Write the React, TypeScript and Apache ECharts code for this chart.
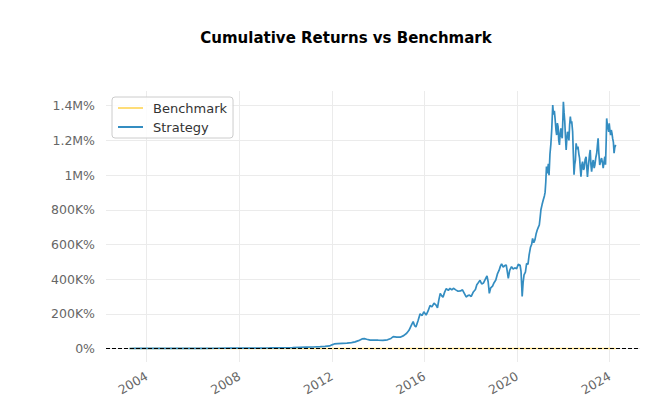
import React, { useEffect, useRef } from "react";
import * as echarts from "echarts";

const xTickYears = [2004, 2008, 2012, 2016, 2020, 2024];
const yTickValues = [0, 200000, 400000, 600000, 800000, 1000000, 1200000, 1400000];

const benchmark: [number, number][] = [
  [2003.25, 0], [2005, 40], [2007.8, 90], [2009.2, -30], [2011, 60], [2013, 110],
  [2015, 180], [2016, 170], [2018, 260], [2020.2, 220], [2021.9, 500], [2022.8, 380], [2024.26, 560],
];

const strategy: [number, number][] = [
  [2003.25, 0], [2003.5, 30], [2003.75, 60], [2004.0, 110], [2004.5, 180], [2005.0, 300],
  [2005.5, 420], [2006.0, 650], [2006.5, 850], [2007.0, 1200], [2007.5, 1600], [2008.0, 2100],
  [2008.5, 2500], [2008.9, 2200], [2009.3, 2900], [2009.7, 3700], [2010.0, 4300], [2010.3, 5200],
  [2010.6, 6300], [2010.9, 7400], [2011.2, 8600], [2011.5, 10500], [2011.7, 12000], [2011.9, 14500],
  [2012.0, 21000], [2012.1, 26000], [2012.25, 27500], [2012.45, 29000], [2012.65, 30500], [2012.85, 34000],
  [2013.0, 38000], [2013.15, 45000], [2013.3, 55000], [2013.4, 57000], [2013.5, 53000], [2013.65, 48000],
  [2013.85, 49000], [2014.0, 48000], [2014.2, 47000], [2014.4, 50000], [2014.55, 58000], [2014.65, 68000],
  [2014.8, 65000], [2014.95, 65000], [2015.1, 74000], [2015.23, 88000], [2015.33, 105000], [2015.44, 136000],
  [2015.51, 155000], [2015.57, 132000], [2015.63, 124000], [2015.72, 160000], [2015.81, 200000], [2015.9, 190000],
  [2015.97, 212000], [2016.07, 193000], [2016.15, 215000], [2016.24, 248000], [2016.32, 240000], [2016.41, 261000],
  [2016.5, 250000], [2016.56, 235000], [2016.62, 280000], [2016.68, 318000], [2016.74, 305000], [2016.8, 295000],
  [2016.87, 325000], [2016.94, 345000], [2017.03, 335000], [2017.1, 347000], [2017.18, 338000], [2017.25, 347000],
  [2017.35, 338000], [2017.45, 330000], [2017.55, 332000], [2017.64, 338000], [2017.72, 318000], [2017.8, 297000],
  [2017.87, 305000], [2017.94, 308000], [2018.02, 300000], [2018.11, 326000], [2018.2, 340000], [2018.26, 368000],
  [2018.33, 380000], [2018.4, 393000], [2018.47, 372000], [2018.55, 378000], [2018.63, 400000], [2018.7, 418000],
  [2018.75, 385000], [2018.8, 318000], [2018.86, 350000], [2018.94, 360000], [2019.0, 378000], [2019.08, 395000],
  [2019.15, 430000], [2019.22, 450000], [2019.28, 475000], [2019.33, 488000], [2019.4, 470000], [2019.47, 478000],
  [2019.53, 482000], [2019.58, 440000], [2019.62, 405000], [2019.68, 450000], [2019.76, 472000], [2019.83, 458000],
  [2019.9, 465000], [2019.98, 460000], [2020.05, 485000], [2020.13, 480000], [2020.17, 445000], [2020.2, 360000],
  [2020.22, 300000], [2020.26, 380000], [2020.3, 424000], [2020.36, 440000], [2020.41, 490000], [2020.47, 485000],
  [2020.52, 540000], [2020.58, 585000], [2020.63, 600000], [2020.67, 635000], [2020.72, 610000], [2020.77, 626000],
  [2020.82, 660000], [2020.87, 683000], [2020.92, 700000], [2020.96, 712000], [2021.0, 760000], [2021.03, 800000],
  [2021.08, 830000], [2021.13, 856000], [2021.18, 880000], [2021.21, 900000], [2021.24, 960000], [2021.27, 1050000],
  [2021.31, 1010000], [2021.35, 1065000], [2021.38, 1000000], [2021.42, 1120000], [2021.46, 1180000], [2021.5, 1270000],
  [2021.54, 1404000], [2021.57, 1350000], [2021.61, 1370000], [2021.64, 1327000], [2021.68, 1260000], [2021.71, 1231000],
  [2021.74, 1300000], [2021.77, 1280000], [2021.8, 1200000], [2021.83, 1174000], [2021.86, 1240000], [2021.89, 1270000],
  [2021.92, 1230000], [2021.95, 1212000], [2021.98, 1330000], [2022.0, 1423000], [2022.03, 1360000], [2022.06, 1308000],
  [2022.09, 1220000], [2022.12, 1145000], [2022.15, 1210000], [2022.18, 1250000], [2022.21, 1230000], [2022.24, 1200000],
  [2022.27, 1290000], [2022.3, 1337000], [2022.33, 1300000], [2022.36, 1310000], [2022.4, 1250000], [2022.43, 1120000],
  [2022.46, 1002000], [2022.49, 1060000], [2022.52, 1087000], [2022.55, 1183000], [2022.59, 1150000], [2022.63, 1164000],
  [2022.67, 1120000], [2022.7, 1098000], [2022.73, 1040000], [2022.76, 991000], [2022.8, 1060000], [2022.83, 1078000],
  [2022.87, 1030000], [2022.9, 1040000], [2022.94, 1090000], [2022.98, 1106000], [2023.01, 1050000], [2023.04, 990000],
  [2023.07, 1040000], [2023.1, 1078000], [2023.13, 1120000], [2023.16, 1145000], [2023.19, 1060000], [2023.22, 1020000],
  [2023.26, 1070000], [2023.29, 1087000], [2023.33, 1040000], [2023.36, 1058000], [2023.4, 1100000], [2023.44, 1126000],
  [2023.47, 1170000], [2023.5, 1212000], [2023.53, 1130000], [2023.57, 1058000], [2023.61, 1080000], [2023.65, 1098000],
  [2023.69, 1070000], [2023.72, 1040000], [2023.76, 1080000], [2023.79, 1106000], [2023.82, 1060000], [2023.85, 1200000],
  [2023.87, 1327000], [2023.9, 1290000], [2023.93, 1270000], [2023.96, 1250000], [2023.98, 1299000], [2024.01, 1260000],
  [2024.04, 1231000], [2024.07, 1260000], [2024.1, 1240000], [2024.13, 1210000], [2024.16, 1190000], [2024.19, 1126000],
  [2024.22, 1160000], [2024.26, 1174000],
];

const X_MIN = 2002.24;
const X_MAX = 2025.31;
const Y_MIN = -78000;
const Y_MAX = 1485000;

const FONT = "DejaVu Sans";

function fmtY(v: number): string {
  if (v === 0) return "0%";
  if (v >= 1000000) return `${+(v / 1000000).toFixed(1)}M%`;
  return `${+(v / 1000).toFixed(0)}K%`;
}

export default function App() {
  const ref = useRef<HTMLDivElement>(null);
  useEffect(() => {
    if (!ref.current) return;
    const chart = echarts.init(ref.current, undefined, { renderer: "svg" });
    chart.setOption({
      animation: false,
      backgroundColor: "#ffffff",
      title: {
        text: "Cumulative Returns vs Benchmark",
        left: 341,
        top: 25,
        textAlign: "center",
        textStyle: { fontFamily: FONT, fontSize: 15, fontWeight: "bold", color: "#000" },
      },
      legend: {
        data: ["Benchmark", "Strategy"],
        orient: "vertical",
        left: 112,
        top: 97,
        padding: [4, 6, 4, 6],
        itemWidth: 25,
        itemHeight: 2,
        itemGap: 5,
        icon: "rect",
        backgroundColor: "rgba(255,255,255,0.85)",
        borderColor: "#cccccc",
        borderWidth: 1,
        borderRadius: 3,
        textStyle: { fontFamily: FONT, fontSize: 13, color: "#333", lineHeight: 14, padding: [0, 0, 0, 5] },
      },
      grid: { left: 106, right: 12, top: 91, bottom: 56, containLabel: false },
      xAxis: {
        type: "value",
        min: X_MIN,
        max: X_MAX,
        axisLine: { show: false },
        axisTick: { show: false, customValues: xTickYears },
        axisLabel: {
          customValues: xTickYears,
          rotate: 30,
          margin: 13,
          color: "#666",
          fontFamily: FONT,
          fontSize: 12.5,
          formatter: (v: number) => String(Math.round(v)),
        },
        splitLine: { show: true, lineStyle: { color: "#ebebeb", width: 1 } },
      },
      yAxis: {
        type: "value",
        min: Y_MIN,
        max: Y_MAX,
        axisLine: { show: false },
        axisTick: { show: false, customValues: yTickValues },
        axisLabel: {
          customValues: yTickValues,
          margin: 11,
          color: "#666",
          fontFamily: FONT,
          fontSize: 12.5,
          formatter: (v: number) => fmtY(v),
        },
        splitLine: { show: true, lineStyle: { color: "#ebebeb", width: 1 } },
      },
      series: [
        {
          name: "Benchmark",
          type: "line",
          data: benchmark,
          symbol: "none",
          color: "#fedd78",
          lineStyle: { color: "#fedd78", width: 1.5 },
          z: 2,
        },
        {
          name: "Strategy",
          type: "line",
          data: strategy,
          symbol: "none",
          color: "#348dc1",
          lineStyle: { color: "#348dc1", width: 1.7 },
          z: 3,
        },
        {
          name: "zero",
          type: "line",
          data: [[X_MIN, 0], [X_MAX, 0]],
          symbol: "none",
          silent: true,
          lineStyle: { color: "#000", width: 1.1, type: [4, 2] },
          z: 4,
        },
      ],
    });
    return () => chart.dispose();
  }, []);
  return (
    <div
      ref={ref}
      style={{ position: "fixed", left: 0, top: 0, width: 652, height: 418 }}
    />
  );
}
